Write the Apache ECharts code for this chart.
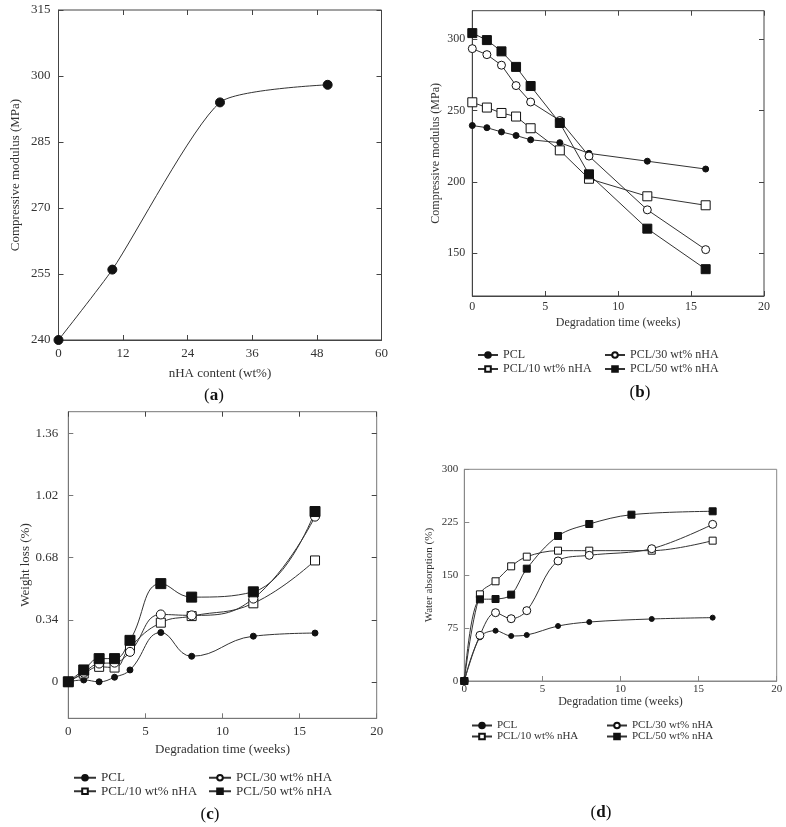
<!DOCTYPE html>
<html><head><meta charset="utf-8">
<script src="https://cdn.jsdelivr.net/npm/echarts@6/dist/echarts.min.js"></script>
<style>html,body{margin:0;padding:0;background:#fff}#c{width:786px;height:827px}</style>
</head><body><div id="c"></div>
<script>
// ---------- data ----------
const aContent = [0, 10, 30, 50];
const aModulus = [240, 256, 294, 298];

const weeks = [0, 1, 2, 3, 4, 6, 8, 12, 16];
const seriesNames = ['PCL', 'PCL/10 wt% nHA', 'PCL/30 wt% nHA', 'PCL/50 wt% nHA'];

const bPCL = [239.5, 238, 235, 232.5, 229.5, 227.5, 220, 214.5, 209];
const bP10 = [255.8, 252.1, 248.3, 245.8, 237.6, 222.1, 202.2, 189.9, 183.6];
const bP30 = [293.4, 289.2, 281.8, 267.5, 256, 243, 218.1, 180.4, 152.5];
const bP50 = [304.3, 299.4, 291.5, 280.6, 267.2, 241.3, 205.3, 167.2, 138.8];
const bYTicks = [150, 200, 250, 300];

const cPCL = [0, 0.01, 0, 0.025, 0.065, 0.27, 0.14, 0.25, 0.267];
const cP10 = [0, 0.045, 0.082, 0.078, 0.19, 0.324, 0.36, 0.43, 0.665];
const cP30 = [0, 0.05, 0.10, 0.105, 0.164, 0.369, 0.364, 0.456, 0.905];
const cP50 = [0, 0.065, 0.127, 0.127, 0.227, 0.538, 0.464, 0.493, 0.933];
const cYTicks = [0, 0.34, 0.68, 1.02, 1.36];

const dWeeks = [0, 1, 2, 3, 4, 6, 8, 12, 15.9];
const dWeeks50 = [0, 1, 2, 3, 4, 6, 8, 10.7, 15.9];
const dPCL = [0, 61.9, 71.3, 63.8, 65.2, 77.9, 83.6, 87.9, 89.8];
const dP10 = [0, 122.8, 141.3, 162.5, 176.2, 184.7, 184.7, 184.7, 198.9];
const dP30 = [0, 64.7, 96.8, 88.3, 99.7, 170.1, 178.1, 187.5, 222];
const dP50 = [0, 115.7, 116.2, 122.4, 159.2, 205.5, 222.5, 235.7, 240.5];

// ---------- styling helpers ----------
const FONT = 'Liberation Serif';
const TXT = '#333';
const LINE = '#444';

function pairs(xs, ys) { return xs.map((x, i) => [x, ys[i]]); }

function grid(l, t, w, h, bc) {
  return { left: l, top: t, width: w, height: h, show: true, borderColor: bc, borderWidth: 1, backgroundColor: 'transparent' };
}
function mainAxis(type, gi, min, max, o) {
  const ax = {
    type: 'value', gridIndex: gi, min: min, max: max,
    axisLine: { show: true, onZero: false, lineStyle: { color: o.lc || LINE, width: 1 } },
    axisTick: { show: true, inside: true, length: 5, lineStyle: { color: o.lc || LINE } },
    splitLine: { show: false },
    axisLabel: { show: true, color: TXT, fontFamily: FONT, fontSize: o.fs, margin: o.margin, formatter: o.fmt },
    name: o.name, nameLocation: 'middle', nameGap: o.gap,
    nameTextStyle: { color: TXT, fontFamily: FONT, fontSize: o.nfs || o.fs }
  };
  if (o.interval) ax.interval = o.interval;
  if (o.custom) { ax.axisTick.customValues = o.custom; ax.axisLabel.customValues = o.custom; }
  return ax;
}
function mirrorAxis(gi, min, max, pos, o) {
  const ax = {
    type: 'value', gridIndex: gi, min: min, max: max, position: pos,
    axisLine: { show: false, onZero: false },
    axisTick: { show: true, inside: true, length: 5, lineStyle: { color: LINE } },
    splitLine: { show: false }, axisLabel: { show: false }
  };
  if (o.interval) ax.interval = o.interval;
  if (o.custom) { ax.axisTick.customValues = o.custom; ax.axisLabel.customValues = o.custom; }
  return ax;
}

// filled circle, open square, open circle, filled square
const symStyles = [
  { symbol: 'circle', fill: '#111' },
  { symbol: 'rect', fill: '#fff' },
  { symbol: 'circle', fill: '#fff' },
  { symbol: 'rect', fill: '#111' }
];
function mkSeries(name, k, xi, yi, data, size, smooth) {
  return {
    type: 'line', name: name, xAxisIndex: xi, yAxisIndex: yi, data: data,
    symbol: symStyles[k].symbol, symbolSize: size, smooth: smooth,
    showAllSymbol: true, animation: false,
    lineStyle: { color: '#333', width: 1 },
    itemStyle: { color: symStyles[k].fill, borderColor: '#111', borderWidth: 1 }
  };
}

const series = [];
series.push(mkSeries('a', 0, 0, 0, pairs(aContent, aModulus), 9, 0.2));
[bPCL, bP10, bP30, bP50].forEach((arr, k) =>
  series.push(mkSeries(seriesNames[k], k, 2, 2, pairs(weeks, arr), [6, 9, 8, 9][k], false)));
[cPCL, cP10, cP30, cP50].forEach((arr, k) =>
  series.push(mkSeries(seriesNames[k], k, 4, 4, pairs(weeks, arr), [6, 9, 9, 10][k], 0.45)));
[dPCL, dP10, dP30, dP50].forEach((arr, k) =>
  series.push(mkSeries(seriesNames[k], k, 6, 6, pairs(k === 3 ? dWeeks50 : dWeeks, arr), [5, 7, 8, 7][k], 0.35)));

function legend(l, t, names, fs, lh, w) {
  return {
    left: l, top: t, orient: 'vertical', data: names, selectedMode: false,
    itemWidth: w, itemHeight: 7, itemGap: 0,
    textStyle: { color: TXT, fontFamily: FONT, fontSize: fs, lineHeight: lh, height: lh }
  };
}

function caption(x, y, letter) {
  return {
    type: 'text', x: x, y: y,
    style: {
      text: '({b|' + letter + '})', align: 'center', verticalAlign: 'middle',
      fontFamily: FONT, fontSize: 17, fill: '#111',
      rich: { b: { fontWeight: 'bold', fontFamily: FONT, fontSize: 17, fill: '#111' } }
    }
  };
}

const cFmt = v => (v === 0 ? '0' : v.toFixed(2));

const option = {
  backgroundColor: '#fff',
  animation: false,
  grid: [
    grid(58.5, 10, 323, 330, LINE),
    grid(472.3, 10.7, 291.7, 285.3, LINE),
    grid(68.3, 411.7, 308.4, 306.6, '#777'),
    grid(464.3, 469.3, 312.4, 211.7, '#888')
  ],
  xAxis: [
    mainAxis('x', 0, 0, 60, { interval: 12, fs: 13, margin: 7, name: 'nHA content (wt%)', gap: 27 }),
    mirrorAxis(0, 0, 60, 'top', { interval: 12 }),
    mainAxis('x', 1, 0, 20, { interval: 5, fs: 12, margin: 5, name: 'Degradation time (weeks)', gap: 21 }),
    mirrorAxis(1, 0, 20, 'top', { interval: 5 }),
    mainAxis('x', 2, 0, 20, { interval: 5, fs: 13, margin: 7, name: 'Degradation time (weeks)', gap: 25, lc: '#777' }),
    mirrorAxis(2, 0, 20, 'top', { interval: 5 }),
    mainAxis('x', 3, 0, 20, { interval: 5, fs: 11, margin: 3, name: 'Degradation time (weeks)', gap: 14, nfs: 12, lc: '#888' })
  ],
  yAxis: [
    mainAxis('y', 0, 240, 315, { interval: 15, fs: 13, margin: 8, name: 'Compressive modulus (MPa)', gap: 36 }),
    mirrorAxis(0, 240, 315, 'right', { interval: 15 }),
    mainAxis('y', 1, 120, 320, { custom: bYTicks, fs: 12, margin: 7, name: 'Compressive modulus (MPa)', gap: 30 }),
    mirrorAxis(1, 120, 320, 'right', { custom: bYTicks }),
    mainAxis('y', 2, -0.2, 1.48, { custom: cYTicks, fs: 13, margin: 10, name: 'Weight loss (%)', gap: 35, fmt: cFmt, lc: '#777' }),
    mirrorAxis(2, -0.2, 1.48, 'right', { custom: cYTicks }),
    mainAxis('y', 3, 0, 300, { interval: 75, fs: 11, margin: 6, name: 'Water absorption (%)', gap: 30, nfs: 11, lc: '#888' })
  ],
  legend: [
    legend(472, 343, [seriesNames[0], seriesNames[1]], 12, 14, 20),
    legend(599, 343, [seriesNames[2], seriesNames[3]], 12, 14, 20),
    legend(68, 766, [seriesNames[0], seriesNames[1]], 13, 13.5, 22),
    legend(203, 766, [seriesNames[2], seriesNames[3]], 13, 13.5, 22),
    legend(466, 715, [seriesNames[0], seriesNames[1]], 11, 11, 20),
    legend(601, 715, [seriesNames[2], seriesNames[3]], 11, 11, 20)
  ],
  graphic: [
    caption(214, 396, 'a'),
    caption(640, 393, 'b'),
    caption(210, 815, 'c'),
    caption(601, 813, 'd')
  ],
  series: series
};

const chart = echarts.init(document.getElementById('c'), null, { renderer: 'canvas' });
chart.setOption(option);
</script></body></html>
